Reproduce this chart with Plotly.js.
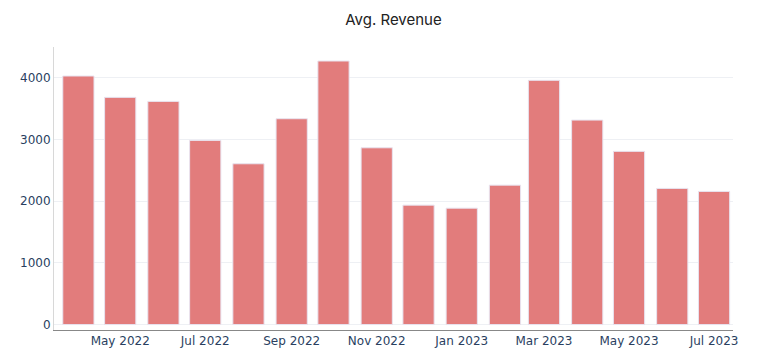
<!DOCTYPE html>
<html>
<head>
<meta charset="utf-8">
<script src="https://cdn.plot.ly/plotly-3.0.1.min.js"></script>
<style>html,body{margin:0;padding:0;background:#fff}#chart{width:767px;height:361px}</style>
</head>
<body>
<div id="chart"></div>
<script>
const months = ["2022-04-01","2022-05-01","2022-06-01","2022-07-01","2022-08-01","2022-09-01","2022-10-01","2022-11-01","2022-12-01","2023-01-01","2023-02-01","2023-03-01","2023-04-01","2023-05-01","2023-06-01","2023-07-01"];
const avgRevenue = [4027,3681,3616,2984,2605,3335,4270,2864,1935,1886,2259,3957,3313,2806,2206,2157];
const chartTitle = "Avg. Revenue";

Plotly.newPlot("chart", [{
  type: "bar",
  x: months,
  y: avgRevenue,
  marker: {color: "#e27c7c", line: {color: "#e8e4f0", width: 1}},
  hoverinfo: "x+y"
}], {
  width: 767, height: 361,
  margin: {l: 54, r: 34, t: 47, b: 31},
  paper_bgcolor: "#fff", plot_bgcolor: "#fff",
  bargap: 0.2,
  title: {text: chartTitle, x: 0.5, xref: "paper", y: 0.945, yref: "container", yanchor: "middle",
          font: {family: "Inter, Roboto, sans-serif", size: 15, color: "#222"}},
  xaxis: {
    type: "date",
    range: ["2022-03-14 12:00", "2023-07-14 14:00"],
    tick0: "2022-01-01", dtick: "M2", tickformat: "%b %Y",
    showgrid: false, showline: true, linecolor: "#888", linewidth: 1,
    ticks: "", tickfont: {family: "DejaVu Sans, Verdana, sans-serif", size: 12, color: "#2a3f5f"}
  },
  yaxis: {
    range: [-88, 4497],
    dtick: 1000, tick0: 0,
    showgrid: true, gridcolor: "#eef0f4", zeroline: false,
    showline: true, linecolor: "#d8d8d8", linewidth: 1,
    ticks: "", tickfont: {family: "DejaVu Sans, Verdana, sans-serif", size: 12, color: "#2a3f5f"}
  },
  showlegend: false
}, {displayModeBar: false});
</script>
</body>
</html>
